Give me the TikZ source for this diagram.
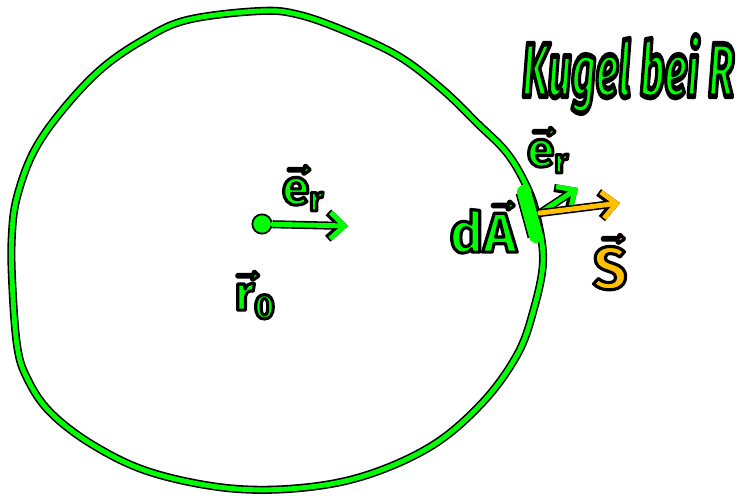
\documentclass[tikz,border=0pt]{standalone}
\usepackage{fontspec}
\setmainfont{Fira Sans}
\usetikzlibrary{arrows.meta, positioning}
\definecolor{handgreen}{HTML}{00FF00}
\definecolor{handorange}{HTML}{FFC000}
% filled and black-stroked glyphs
\newcommand{\inkon}{\special{pdf:literal direct 0 G 1.8 w 1 j 2 Tr}}
\newcommand{\inkoff}{\special{pdf:literal direct 0 Tr}}
\newcommand{\greenink}[1]{\textcolor{handgreen}{\inkon#1\inkoff}}
\newcommand{\orangeink}[1]{\textcolor{handorange}{\inkon#1\inkoff}}
\tikzset{
  ink/.style={draw=handgreen, line width=2.8pt, line cap=round, line join=round,
    preaction={draw=black, line width=4.6pt}},
  orangeink/.style={ink, draw=handorange},
  patch/.style={draw=handgreen, line width=8pt, line cap=round,
    preaction={draw=black, line width=9.8pt}},
  tip/.style={-{Straight Barb[length=8pt, width=15pt]}},
  lbl/.style={inner sep=0pt, font=\fontsize{28}{32}\selectfont\bfseries\boldmath},
}

\begin{document}
\begin{tikzpicture}[x=0.02cm, y=-0.02cm]
  \useasboundingbox (0,0) rectangle (742,495);
  % sphere
  \draw[ink] plot[smooth cycle, tension=0.6] coordinates {
    (12,233) (17,197) (33,153) (60,113) (100,70) (143,40) (187,20) (260,11)
    (300,15) (350,33) (400,57) (443,90) (477,123) (507,153) (527,187)
    (537,217) (543,262) (533,312) (517,355) (483,402) (433,445) (367,475)
    (300,488) (227,488) (150,472) (93,445) (50,412) (27,378) (17,345) (12,278)};
  \node[lbl, font=\fontsize{24}{28}\selectfont\bfseries\itshape] (kugel) at (628,74)
    {\scalebox{1}[1.8]{\greenink{Kugel bei R}}};

  % centre
  \node[circle, fill=handgreen, draw=black, line width=1pt, minimum size=11pt, inner sep=0pt] (o) at (262,224) {};
  \coordinate (ertip) at (348,226);
  \draw[ink, tip] (o) -- (ertip);
  \node[lbl] (er0) at (303,188) {\greenink{$\vec{\mathrm{e}}_\mathrm{r}$}};
  \node[lbl] (r0) at (255,295) {\greenink{$\vec{\mathrm{r}}_\mathrm{0}$}};

  % surface element
  \coordinate (dAtop) at (524,192);
  \coordinate (dAbot) at (536,236);
  \draw[patch] (dAtop) -- (dAbot);
  \coordinate (p) at (540,213);
  \coordinate (ertop) at (578,188);
  \coordinate (Stip) at (620,203);
  \draw[ink, tip] (p) -- (ertop);
  \draw[orangeink, tip] (p) -- (Stip);
  \node[lbl] (er) at (548,150) {\greenink{$\vec{\mathrm{e}}_\mathrm{r}$}};
  \node[lbl, font=\fontsize{32}{36}\selectfont\bfseries\boldmath] (dA) at (483,227) {\greenink{$\mathrm{d}\vec{\mathrm{A}}$}};
  \node[lbl, font=\fontsize{34}{38}\selectfont\bfseries\boldmath] (S) at (610,262) {\orangeink{$\vec{\mathrm{S}}$}};
\end{tikzpicture}
\end{document}
